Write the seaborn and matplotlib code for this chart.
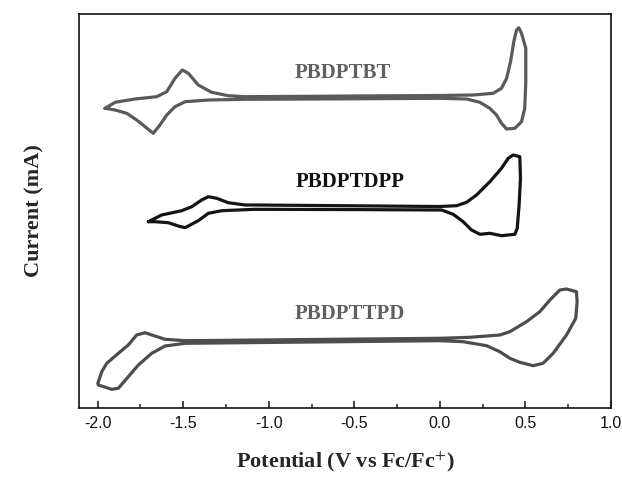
import matplotlib
matplotlib.use("Agg")
import matplotlib.pyplot as plt
import seaborn as sns
import pandas as pd
from matplotlib.ticker import MultipleLocator

# ---- data (potential in V vs Fc/Fc+, current in arbitrary offset units) ----
tbt_potential = [-1.957, -1.898, -1.782, -1.655, -1.596, -1.548, -1.505, -1.470, -1.412, -1.334,
                 -1.237, -1.139, -0.5, 0.0, 0.195, 0.311, 0.360, 0.390, 0.413, 0.432, 0.448, 0.461,
                 0.477, 0.502, 0.502, 0.496, 0.477, 0.438, 0.390, 0.360, 0.331, 0.292, 0.234, 0.156,
                 0.0, -0.5, -1.139, -1.353, -1.489, -1.548, -1.596, -1.636, -1.675, -1.723, -1.772,
                 -1.830, -1.898, -1.957]
tbt_current = [29.97, 30.57, 30.90, 31.13, 31.63, 32.97, 33.80, 33.47, 32.30, 31.57,
               31.23, 31.13, 31.20, 31.25, 31.30, 31.47, 31.97, 32.97, 34.63, 36.63, 37.80, 38.03,
               37.47, 35.97, 32.63, 29.97, 28.63, 27.97, 27.90, 28.47, 29.30, 29.97, 30.57, 30.90,
               30.97, 30.92, 30.87, 30.80, 30.63, 30.13, 29.30, 28.30, 27.47, 28.13, 28.80,
               29.47, 29.80, 29.97]

dpp_potential = [-1.704, -1.626, -1.509, -1.450, -1.392, -1.353, -1.304, -1.237, -1.139, -1.081,
                 -0.5, 0.0, 0.098, 0.156, 0.214, 0.292, 0.360, 0.399, 0.428, 0.467, 0.471, 0.463,
                 0.452, 0.438, 0.360, 0.292, 0.234, 0.185, 0.136, 0.078, 0.010, -0.5, -1.081,
                 -1.275, -1.353, -1.412, -1.489, -1.529, -1.587, -1.665, -1.704]
dpp_current = [18.63, 19.30, 19.73, 20.13, 20.80, 21.13, 20.97, 20.53, 20.30, 20.30,
               20.22, 20.15, 20.23, 20.57, 21.30, 22.63, 23.97, 24.97, 25.30, 25.13, 22.97, 20.30,
               17.97, 17.37, 17.23, 17.47, 17.37, 17.80, 18.63, 19.37, 19.80, 19.84, 19.87,
               19.73, 19.47, 18.73, 18.03, 18.20, 18.53, 18.63, 18.63]

tpd_potential = [-1.489, -1.606, -1.665, -1.723, -1.772, -1.821, -1.879, -1.947, -1.976, -1.999,
                 -1.996, -1.918, -1.879, -1.821, -1.762, -1.684, -1.606, -1.489, -0.75, 0.0,
                 0.136, 0.273, 0.350, 0.409, 0.467, 0.545, 0.603, 0.662, 0.740, 0.794, 0.802,
                 0.798, 0.740, 0.701, 0.643, 0.584, 0.506, 0.409, 0.350, 0.175, 0.0, -0.75, -1.489]
tpd_current = [6.73, 6.87, 7.20, 7.53, 7.30, 6.30, 5.47, 4.47, 3.63, 2.47,
               2.30, 1.87, 1.97, 3.13, 4.30, 5.47, 6.20, 6.47, 6.60, 6.73,
               6.63, 6.23, 5.63, 4.97, 4.57, 4.23, 4.47, 5.47, 7.30, 8.97, 10.63,
               11.63, 11.90, 11.80, 10.80, 9.63, 8.63, 7.63, 7.30, 7.07, 6.97, 6.85, 6.73]

names = ["PBDPTBT", "PBDPTDPP", "PBDPTTPD"]
x_ticks = [-2.0, -1.5, -1.0, -0.5, 0.0, 0.5, 1.0]

sns.set_theme(style="ticks")
plt.rcParams["font.family"] = ["Liberation Sans", "DejaVu Sans"]
plt.rcParams["mathtext.fontset"] = "stix"

fig = plt.figure(figsize=(6.22, 4.83), dpi=100)
ax = fig.add_axes([79 / 622, 1 - 408 / 483, (611 - 79) / 622, (408 - 14) / 483])

series = [
    (tbt_potential, tbt_current, "#5a5a5a"),
    (dpp_potential, dpp_current, "#141414"),
    (tpd_potential, tpd_current, "#4d4d4d"),
]
for (xp, yc, col), nm in zip(series, names):
    df = pd.DataFrame({"Potential": xp, "Current": yc})
    sns.lineplot(data=df, x="Potential", y="Current", sort=False, estimator=None,
                 color=col, linewidth=2.3, ax=ax,
                 solid_joinstyle="round", solid_capstyle="round")

label_pos = [(-0.567, 33.5, "#606060"), (-0.526, 22.6, "#101010"), (-0.526, 9.4, "#606060")]
for nm, (lx, ly, lc) in zip(names, label_pos):
    ax.text(lx, ly, nm, ha="center", va="center", fontsize=15, fontweight="bold",
            family=["Liberation Serif", "DejaVu Serif"], color=lc)

ax.set_xlim(-2.109, 1.0)
ax.set_ylim(0, 39.4)
ax.set_xticks(x_ticks)
ax.set_xticklabels([f"{t:.1f}" for t in x_ticks])
ax.xaxis.set_minor_locator(MultipleLocator(0.25))
ax.set_yticks([])
ax.tick_params(axis="x", which="major", direction="in", length=5, width=1.1,
               labelsize=11.5, pad=6, colors="#111111", top=False)
ax.tick_params(axis="x", which="minor", direction="in", length=3, width=1.1, top=False)
for sp in ax.spines.values():
    sp.set_visible(True)
    sp.set_linewidth(1.2)
    sp.set_color("#111111")

ax.set_xlabel(r"Potential (V vs Fc/Fc$^{+}$)", fontsize=16, fontweight="bold",
              family=["Liberation Serif", "DejaVu Serif"], labelpad=13)
ax.set_ylabel("Current (mA)", fontsize=16, fontweight="bold",
              family=["Liberation Serif", "DejaVu Serif"], labelpad=25)

fig.savefig("out.png", dpi=100)
